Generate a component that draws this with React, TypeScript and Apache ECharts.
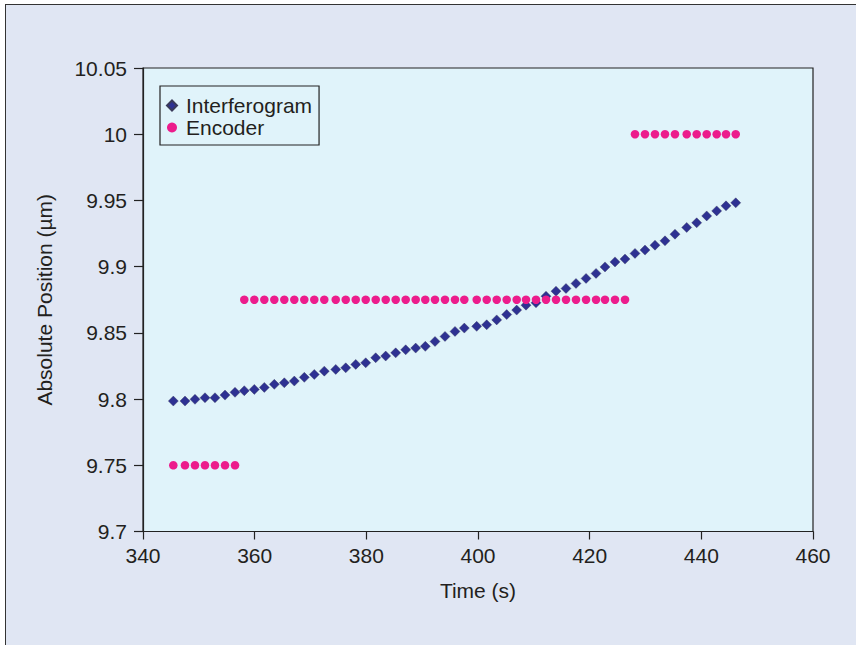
import React, { useEffect, useRef } from "react";
import * as echarts from "echarts";

const times = [
  345.43, 347.52, 349.31, 351.1, 352.89, 354.69, 356.48,
  358.14, 359.94, 361.73, 363.52, 365.31, 367.1, 368.89, 370.68, 372.47, 374.52,
  376.31, 378.1, 379.89, 381.68, 383.47, 385.26, 387.05, 388.84, 390.56, 392.3,
  394.09, 395.88, 397.55, 399.77, 401.56, 403.35, 405.14, 406.93, 408.6, 410.39,
  412.18, 413.97, 415.76, 417.55, 419.35, 421.14, 422.75, 424.54, 426.33,
  428.12, 429.91, 431.7, 433.49, 435.28, 437.38, 439.17, 440.96, 442.75, 444.42, 446.16,
];

const interferogram = [
  9.7985, 9.7985, 9.7998, 9.801, 9.801, 9.803, 9.8051, 9.8063, 9.8073, 9.8088,
  9.8111, 9.8123, 9.8136, 9.8164, 9.8186, 9.8211, 9.8224, 9.8236, 9.8262, 9.8274,
  9.8312, 9.8325, 9.8349, 9.8372, 9.8385, 9.8398, 9.8435, 9.8473, 9.8511, 9.8536,
  9.8549, 9.8561, 9.8598, 9.8638, 9.8672, 9.8709, 9.8727, 9.8777, 9.8815, 9.8835,
  9.8873, 9.8911, 9.8949, 9.8998, 9.9036, 9.9057, 9.91, 9.9125, 9.9162, 9.9195,
  9.9245, 9.9296, 9.9331, 9.9383, 9.9421, 9.9459, 9.9482,
];

const encoder = [
  9.75, 9.75, 9.75, 9.75, 9.75, 9.75, 9.75,
  9.875, 9.875, 9.875, 9.875, 9.875, 9.875, 9.875, 9.875, 9.875, 9.875,
  9.875, 9.875, 9.875, 9.875, 9.875, 9.875, 9.875, 9.875, 9.875, 9.875,
  9.875, 9.875, 9.875, 9.875, 9.875, 9.875, 9.875, 9.875, 9.875, 9.875,
  9.875, 9.875, 9.875, 9.875, 9.875, 9.875, 9.875, 9.875, 9.875,
  10.0, 10.0, 10.0, 10.0, 10.0, 10.0, 10.0, 10.0, 10.0, 10.0, 10.0,
];

const seriesNames = ["Interferogram", "Encoder"];
const xTitle = "Time (s)";
const yTitle = "Absolute Position (µm)";

const FONT = "'Liberation Sans', Arial, Helvetica, sans-serif";
const TEXT = "#231f20";

export default function App() {
  const ref = useRef<HTMLDivElement>(null);

  useEffect(() => {
    if (!ref.current) return;
    const chart = echarts.init(ref.current, undefined, { renderer: "svg" });
    chart.setOption({
      animation: false,
      backgroundColor: "transparent",
      textStyle: { fontFamily: FONT },
      grid: {
        left: 143,
        top: 68,
        right: 43,
        bottom: 113.5,
        show: true,
        backgroundColor: "#e0f3fa",
        borderColor: "#222",
        borderWidth: 1.2,
      },
      legend: {
        orient: "vertical",
        left: 160,
        top: 86,
        padding: [9, 7, 7, 6],
        itemGap: 1,
        itemWidth: 10,
        itemHeight: 10,
        backgroundColor: "#e0f3fa",
        borderColor: "#222",
        borderWidth: 1.2,
        borderRadius: 0,
        textStyle: { fontSize: 21, color: TEXT, fontFamily: FONT, padding: [0, 0, 0, 4] },
        data: [
          { name: seriesNames[0], icon: "diamond" },
          { name: seriesNames[1], icon: "circle" },
        ],
      },
      xAxis: {
        type: "value",
        min: 340,
        max: 460,
        interval: 20,
        name: xTitle,
        nameLocation: "middle",
        nameGap: 48,
        nameTextStyle: { fontSize: 21, color: TEXT, fontFamily: FONT },
        splitLine: { show: false },
        axisLine: { show: true, onZero: false, lineStyle: { color: "#222", width: 1.2 } },
        axisTick: { show: true, inside: false, length: 8, lineStyle: { color: "#222", width: 1.2 } },
        axisLabel: { fontSize: 21, color: TEXT, margin: 13, fontFamily: FONT },
      },
      yAxis: {
        type: "value",
        min: 9.7,
        max: 10.05,
        interval: 0.05,
        name: yTitle,
        nameLocation: "middle",
        nameGap: 88,
        nameRotate: 90,
        nameTextStyle: { fontSize: 21, color: TEXT, fontFamily: FONT },
        splitLine: { show: false },
        axisLine: { show: true, onZero: false, lineStyle: { color: "#222", width: 1.2 } },
        axisTick: { show: true, inside: false, length: 9, lineStyle: { color: "#222", width: 1.2 } },
        axisLabel: {
          fontSize: 21,
          color: TEXT,
          margin: 16,
          fontFamily: FONT,
          formatter: (v: number) => String(parseFloat(v.toFixed(2))),
        },
      },
      series: [
        {
          name: seriesNames[0],
          type: "scatter",
          symbol: "diamond",
          symbolSize: 10,
          itemStyle: { color: "#2e3192", borderColor: "#3a3a5a", borderWidth: 0.4, opacity: 1 },
          data: times.map((t, i) => [t, interferogram[i]]),
        },
        {
          name: seriesNames[1],
          type: "scatter",
          symbol: "circle",
          symbolSize: 8.5,
          itemStyle: { color: "#ec1c8c", opacity: 1 },
          data: times.map((t, i) => [t, encoder[i]]),
        },
      ],
    });
    return () => chart.dispose();
  }, []);

  return (
    <div
      style={{
        position: "fixed",
        left: 0,
        top: 0,
        width: 856,
        height: 645,
        background: "#ffffff",
        overflow: "hidden",
      }}
    >
      <div
        style={{
          position: "absolute",
          left: 5,
          top: 4,
          width: 860,
          height: 650,
          background: "#e0e6f3",
          borderTop: "1.5px solid #333",
          borderLeft: "1.5px solid #333",
        }}
      />
      <div ref={ref} style={{ position: "absolute", left: 0, top: 0, width: 856, height: 645 }} />
    </div>
  );
}
